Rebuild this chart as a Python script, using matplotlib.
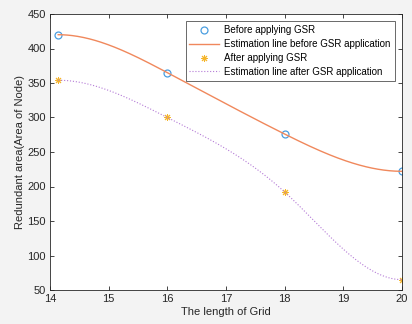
import matplotlib.pyplot as plt
import numpy as np

grid_len = [14.14, 16, 18, 20]
area_before = [420, 365, 276, 222]
area_after = [354, 300, 192, 65]

x_ticks = [14, 15, 16, 17, 18, 19, 20]
y_ticks = [50, 100, 150, 200, 250, 300, 350, 400, 450]

plt.rcParams['font.family'] = ['Liberation Sans', 'DejaVu Sans']


def clamped_spline(x, y, xs):
    # cubic spline with zero end slopes (like MATLAB spline(x, [0 y 0]))
    x = np.asarray(x, float)
    y = np.asarray(y, float)
    n = len(x)
    h = np.diff(x)
    d = np.diff(y) / h
    A = np.zeros((n, n))
    b = np.zeros(n)
    A[0, 0] = 1
    A[-1, -1] = 1
    for i in range(1, n - 1):
        A[i, i - 1] = h[i]
        A[i, i] = 2 * (h[i - 1] + h[i])
        A[i, i + 1] = h[i - 1]
        b[i] = 3 * (h[i] * d[i - 1] + h[i - 1] * d[i])
    m = np.linalg.solve(A, b)
    k = np.clip(np.searchsorted(x, xs) - 1, 0, n - 2)
    t = (xs - x[k]) / h[k]
    h00 = 2 * t**3 - 3 * t**2 + 1
    h10 = t**3 - 2 * t**2 + t
    h01 = -2 * t**3 + 3 * t**2
    h11 = t**3 - t**2
    return h00 * y[k] + h10 * h[k] * m[k] + h01 * y[k + 1] + h11 * h[k] * m[k + 1]


fig = plt.figure(figsize=(4.12, 3.24), dpi=100, facecolor='#f3f3f3')
ax = fig.add_axes([50 / 412, 34 / 324, 352 / 412, 276 / 324])

xs = np.linspace(min(grid_len), max(grid_len), 300)

ax.plot(grid_len, area_before, 'o', mfc='none', mec='#4a9ee0', ms=5, mew=0.9,
        label='Before applying GSR')
ax.plot(xs, clamped_spline(grid_len, area_before, xs), color='#f0885c', lw=1.0,
        label='Estimation line before GSR application')
ax.plot(grid_len, area_after, marker=(8, 2, 0), ls='none', color='#f5b52a',
        ms=5, mew=0.7, label='After applying GSR')
ax.plot(xs, clamped_spline(grid_len, area_after, xs), ':', color='#b47ad6', lw=0.8,
        label='Estimation line after GSR application')

ax.set_xlim(14, 20)
ax.set_ylim(50, 450)
ax.set_xticks(x_ticks)
ax.set_yticks(y_ticks)
ax.tick_params(direction='in', top=True, right=True, labelsize=8,
               length=3, width=0.6, colors='#262626', pad=3)
for s in ax.spines.values():
    s.set_color('#262626')
    s.set_linewidth(0.6)
ax.set_xlabel('The length of Grid', fontsize=8, color='#262626', labelpad=2)
ax.set_ylabel('Redundant area(Area of Node)', fontsize=8, color='#262626', labelpad=2)

leg = ax.legend(loc='upper right', fontsize=7, frameon=True, fancybox=False,
                borderpad=0.4, labelspacing=0.4, handlelength=3.0,
                handletextpad=0.6, borderaxespad=0.75)
leg.get_frame().set_edgecolor('#262626')
leg.get_frame().set_linewidth(0.6)

fig.savefig('out.png', dpi=100, facecolor=fig.get_facecolor())
